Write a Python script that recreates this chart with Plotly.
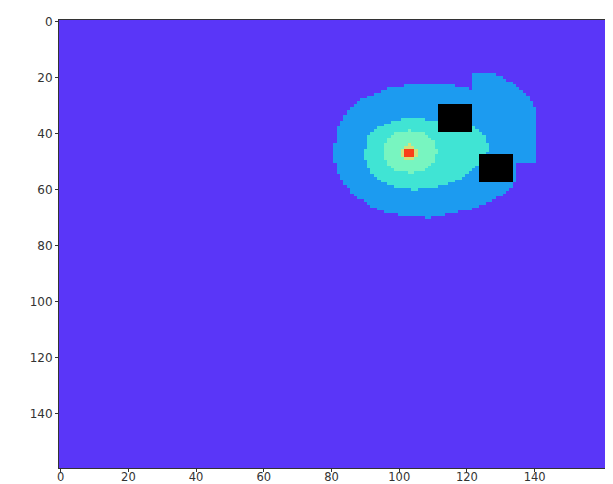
import numpy as np
import plotly.graph_objects as go

# Grid size (cells)
n_cols = 166
n_rows = 160

# Contour region outlines (data units: x = column, y = row)
outer_x = [80.97, 81.96, 84.91, 89.83, 95.74, 102.63, 108.53, 115.43, 119.36, 121.53, 121.53, 122.32,
           125.27, 129.21, 133.15, 136.10, 138.56, 140.04, 140.23, 134.13, 134.13, 131.18, 127.24,
           122.32, 115.43, 108.53, 101.64, 95.74, 90.82, 85.89, 82.45, 80.97]
outer_y = [44.2, 37.1, 31.2, 27.1, 24.2, 22.7, 22.4, 22.7, 23.6, 24.2, 18.9, 18.3,
           18.0, 19.4, 21.8, 24.2, 27.1, 30.6, 50.7, 50.7, 57.7, 61.3, 64.2,
           66.6, 68.7, 70.1, 69.5, 68.0, 65.4, 61.3, 56.0, 50.1]

green_x = [89.83, 90.82, 93.77, 98.69, 104.60, 111.0, 117.39, 121.53, 123.80, 125.76, 126.45, 125.27,
           122.32, 119.36, 115.43, 109.52, 103.61, 97.71, 93.77, 90.82, 89.83]
green_y = [46.5, 41.2, 37.7, 35.3, 34.5, 35.7, 36.5, 37.7, 38.9, 41.8, 45.4, 48.9,
           52.4, 55.4, 57.7, 59.7, 60.1, 58.9, 56.5, 52.4, 48.9]

inner_x = [95.25, 96.23, 99.18, 103.12, 107.06, 110.01, 111.19, 110.01, 107.06, 103.12, 99.18, 96.23]
inner_y = [46.5, 42.4, 39.7, 38.9, 39.5, 42.4, 46.5, 50.7, 53.4, 54.2, 53.4, 50.7]

yellow_x = [100.17, 101.15, 102.83, 104.60, 105.58, 104.60, 102.83, 101.15]
yellow_y = [46.8, 44.8, 43.9, 44.8, 46.8, 48.9, 49.6, 48.9]

red_x = [101.15, 101.9, 104.0, 105.0, 104.6, 101.9]
red_y = [46.5, 45.2, 45.2, 46.5, 48.2, 48.2]

# Level of each region (ordered from outside to inside)
region_levels = [1, 2, 3, 4, 5]

# Obstacles (black squares): top-left cell and size
obstacle_col = [112, 124]
obstacle_row = [30, 48]
obstacle_size = [10, 10]

# Axis ticks
tick_vals = [0, 20, 40, 60, 80, 100, 120, 140]
tick_text = ["0", "20", "40", "60", "80", "100", "120", "140"]

level_colors = ["rgb(90,54,248)", "rgb(28,155,240)", "rgb(64,228,212)",
                "rgb(120,245,192)", "rgb(210,225,125)", "rgb(250,62,25)"]


def inside(px, py, xs, ys):
    xs = np.asarray(xs); ys = np.asarray(ys)
    res = np.zeros(px.shape, dtype=bool)
    n = len(xs)
    j = n - 1
    for i in range(n):
        xi, yi, xj, yj = xs[i], ys[i], xs[j], ys[j]
        cond = ((yi > py) != (yj > py))
        with np.errstate(divide="ignore", invalid="ignore"):
            xint = (xj - xi) * (py - yi) / (yj - yi) + xi
        res ^= cond & (px < xint)
        j = i
    return res


cols = np.arange(n_cols)
rows = np.arange(n_rows)
CX, RY = np.meshgrid(cols, rows)

z = np.zeros((n_rows, n_cols))
for lvl, (xs, ys) in zip(region_levels, [(outer_x, outer_y), (green_x, green_y), (inner_x, inner_y),
                                         (yellow_x, yellow_y), (red_x, red_y)]):
    z[inside(CX, RY, xs, ys)] = lvl

obst = np.full((n_rows, n_cols), np.nan)
for c0, r0, s in zip(obstacle_col, obstacle_row, obstacle_size):
    obst[r0:r0 + s, c0:c0 + s] = 1.0

nl = len(level_colors)
cs = []
for i, c in enumerate(level_colors):
    cs.append([i / nl, c])
    cs.append([(i + 1) / nl, c])

fig = go.Figure()
fig.add_trace(go.Heatmap(z=z, x=cols, y=rows, colorscale=cs, zmin=-0.5, zmax=nl - 0.5,
                         showscale=False, hoverinfo="skip"))
fig.add_trace(go.Heatmap(z=obst, x=cols, y=rows, colorscale=[[0, "black"], [1, "black"]],
                         showscale=False, hoverinfo="skip"))

axis_common = dict(showgrid=False, zeroline=False, ticks="outside", ticklen=3, tickwidth=1,
                   tickcolor="#333", showline=True, linecolor="#333", linewidth=1)
fig.update_xaxes(range=[-0.5, n_cols - 0.5], tickvals=tick_vals, ticktext=tick_text, mirror=True,
                 ticklabelstandoff=-5, tickfont=dict(family="DejaVu Sans", size=11.5, color="#333"),
                 **axis_common)
fig.update_yaxes(range=[n_rows - 0.5, -0.5], tickvals=tick_vals, ticktext=tick_text, mirror=False,
                 tickfont=dict(family="DejaVu Sans", size=12, color="#333"), **axis_common)
fig.update_layout(width=613, height=484, margin=dict(l=51, r=0, t=12, b=24),
                  paper_bgcolor="white", plot_bgcolor="white", showlegend=False)
fig.write_html("out.html")
